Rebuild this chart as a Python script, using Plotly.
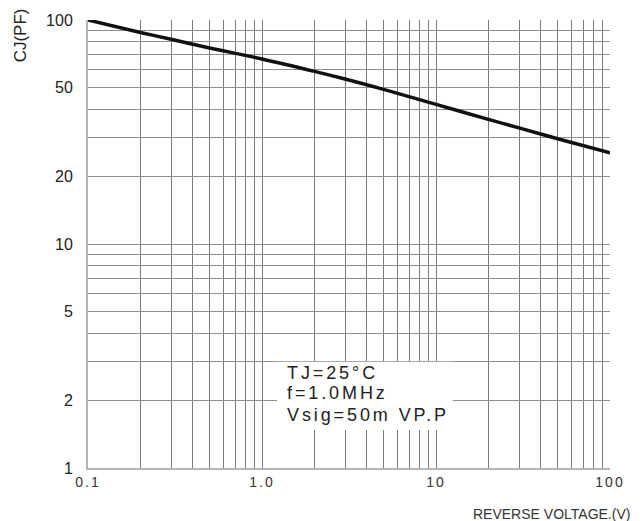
import plotly.graph_objects as go

# Data
voltage = [0.1, 0.2, 0.3, 0.5, 1.0, 2, 3, 5, 10, 20, 30, 50, 100]
capacitance = [100, 88, 82, 75, 67, 59, 54.5, 49, 42, 36, 33, 29.5, 25.5]

x_grid = [0.1, 0.2, 0.3, 0.4, 0.5, 0.6, 0.7, 0.8, 0.9,
          1, 2, 3, 4, 5, 6, 7, 8, 9,
          10, 20, 30, 40, 50, 60, 70, 80, 90, 100]
x_labels = {0.1: "0.1", 1: "1.0", 10: "10", 100: "100"}
y_grid = [1, 2, 3, 4, 5, 6, 7, 8, 9, 10, 20, 30, 40, 50, 60, 70, 80, 90, 100]
y_labels = {1: "1", 2: "2", 5: "5", 10: "10", 20: "20", 50: "50", 100: "100"}

note_lines = ["TJ=25°C", "f=1.0MHz", "Vsig=50m VP.P"]


def spaced(t, px):
    return f'<span style="letter-spacing:{px}px">{t}</span>' if t else ""


fig = go.Figure()
fig.add_trace(go.Scatter(
    x=voltage, y=capacitance, mode="lines",
    line=dict(color="#111111", width=3.5, shape="spline", smoothing=0.8),
    showlegend=False, hoverinfo="skip",
))

fig.update_xaxes(
    type="log", range=[-1, 2], automargin=False,
    tickvals=x_grid, ticktext=[spaced(x_labels.get(v, ""), 2) for v in x_grid],
    showgrid=True, gridcolor="#7a7a7a", gridwidth=1,
    showline=True, linecolor="#b5b5b5", linewidth=2,
    ticks="", zeroline=False,
    tickfont=dict(family="Liberation Sans, Arial", size=14, color="#333"),
    ticklabelstandoff=0,
)
fig.update_yaxes(
    type="log", range=[0, 2], automargin=False,
    tickvals=y_grid, ticktext=[y_labels.get(v, "") for v in y_grid],
    showgrid=True, gridcolor="#8f8f8f", gridwidth=1,
    showline=True, linecolor="#b5b5b5", linewidth=2,
    ticks="", zeroline=False,
    tickfont=dict(family="Liberation Sans, Arial", size=16, color="#222"),
    ticklabelstandoff=10,
)

# white box behind the test-condition note
fig.add_shape(
    type="rect", xref="paper", yref="paper",
    x0=0.362, x1=0.699, y0=0.085, y1=0.237,
    fillcolor="white", line=dict(width=0), layer="above",
)
note_y = [0.212, 0.167, 0.118]
for t, yy in zip(note_lines, note_y):
    fig.add_annotation(
        xref="paper", yref="paper", x=0.377, y=yy,
        xanchor="left", yanchor="middle",
        text=spaced(t, 2.9), showarrow=False,
        font=dict(family="Liberation Sans, Arial", size=18, color="#222"),
    )

fig.add_annotation(
    xref="paper", yref="paper", x=-0.130, y=0.966,
    xanchor="center", yanchor="middle", textangle=-90,
    text="CJ(PF)", showarrow=False,
    font=dict(family="Liberation Sans, Arial", size=17, color="#222"),
)
fig.add_annotation(
    xref="paper", yref="paper", x=1.042, y=-0.103,
    xanchor="right", yanchor="middle",
    text="REVERSE VOLTAGE.(V)", showarrow=False,
    font=dict(family="Liberation Sans, Arial", size=14, color="#333"),
)

# page body has an 8px default margin, so the figure is shrunk by 8px
fig.update_layout(
    width=632, height=513,
    margin=dict(l=80, r=30, t=12, b=53),
    paper_bgcolor="white", plot_bgcolor="white",
    showlegend=False,
)
fig.write_html("out.html")
